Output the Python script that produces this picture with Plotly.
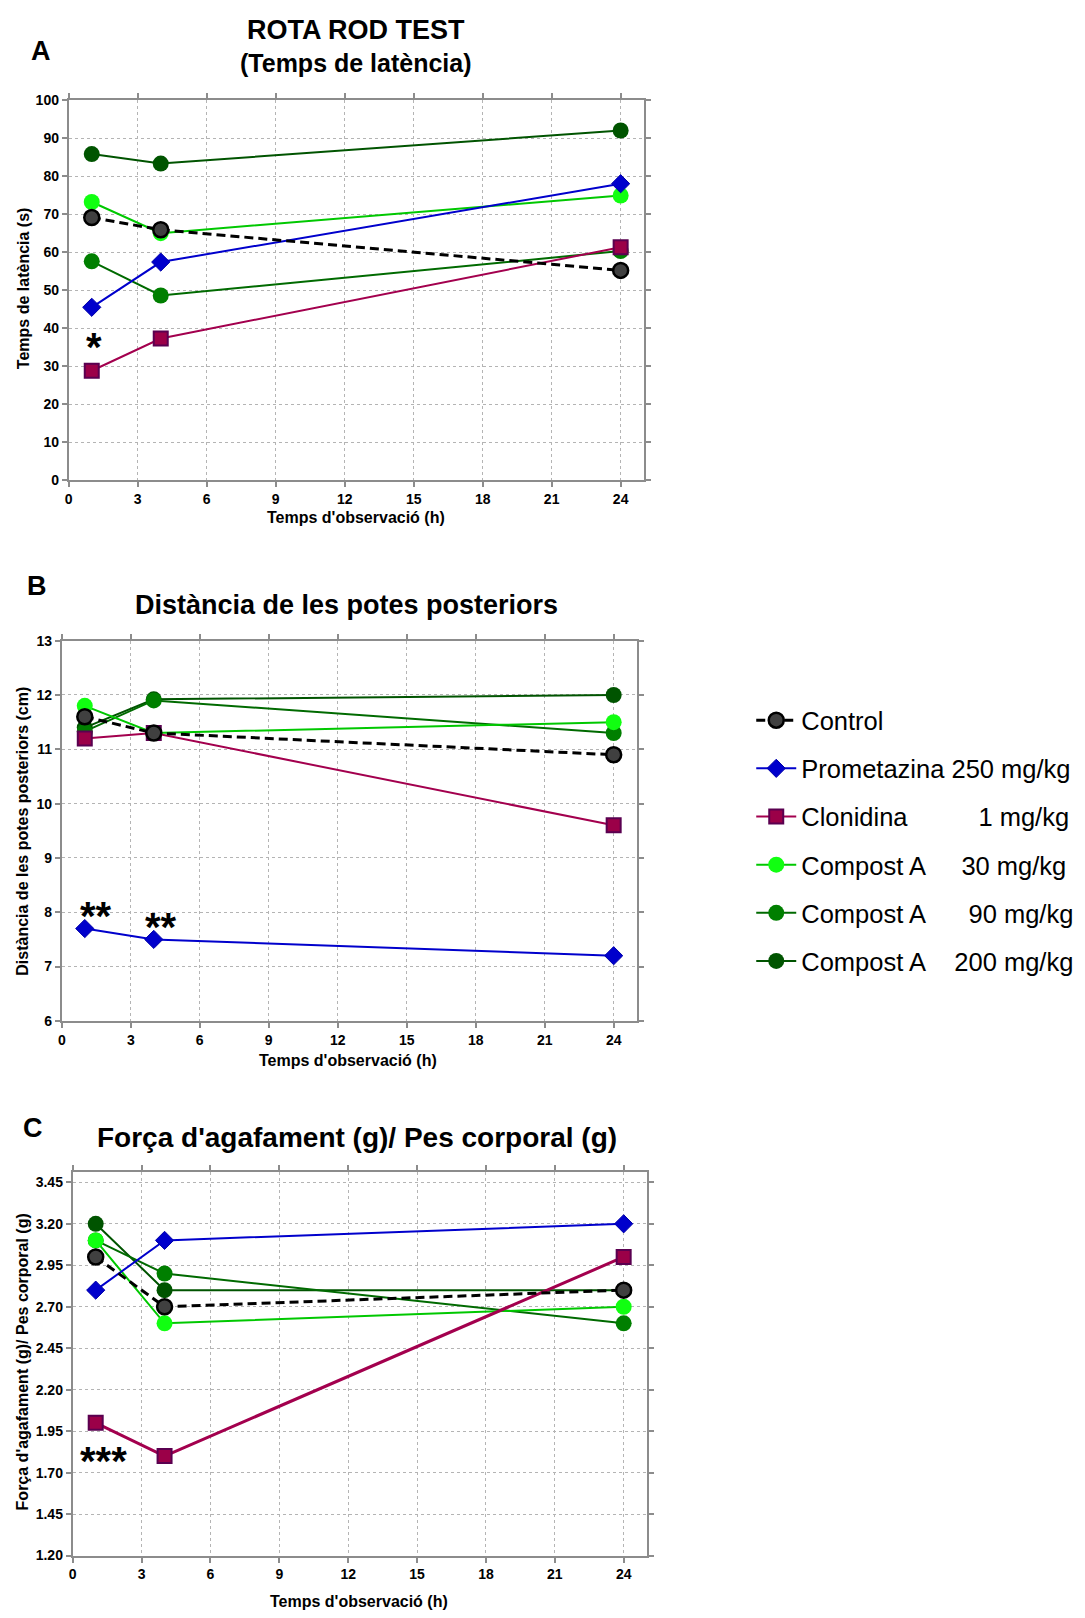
import plotly.graph_objects as go

# ---------------- data ----------------
hours = [1, 4, 24]

series_names = ["Control", "Prometazina", "Clonidina", "Compost A", "Compost A", "Compost A"]
series_doses = ["", "250 mg/kg", "1 mg/kg", "30 mg/kg", "90 mg/kg", "200 mg/kg"]

# Panel A: Temps de latència (s)
lat_control = [69.1, 65.9, 55.2]
lat_prometazina = [45.5, 57.4, 78.0]
lat_clonidina = [28.8, 37.3, 61.3]
lat_compA30 = [73.2, 65.0, 74.9]
lat_compA90 = [57.6, 48.6, 60.3]
lat_compA200 = [85.8, 83.3, 92.0]

# Panel B: Distància de les potes posteriors (cm)
dist_control = [11.6, 11.3, 10.9]
dist_prometazina = [7.7, 7.5, 7.2]
dist_clonidina = [11.2, 11.3, 9.6]
dist_compA30 = [11.8, 11.3, 11.5]
dist_compA90 = [11.33, 11.9, 11.3]
dist_compA200 = [11.4, 11.92, 12.0]

# Panel C: Força d'agafament (g)/ Pes corporal (g)
grip_control = [3.00, 2.70, 2.80]
grip_prometazina = [2.80, 3.10, 3.20]
grip_clonidina = [2.00, 1.80, 3.00]
grip_compA30 = [3.10, 2.60, 2.70]
grip_compA90 = [3.10, 2.90, 2.60]
grip_compA200 = [3.20, 2.80, 2.80]

# significance marks (text, x, y) per panel
sig_a_text = ["*"]
sig_a_x = [1.09]
sig_a_y = [35.0]
sig_b_text = ["**", "**"]
sig_b_x = [1.47, 4.33]
sig_b_y = [7.93, 7.73]
sig_c_text = ["***"]
sig_c_x = [1.35]
sig_c_y = [1.77]

x_ticks = [0, 3, 6, 9, 12, 15, 18, 21, 24]
a_ticks = [0, 10, 20, 30, 40, 50, 60, 70, 80, 90, 100]
b_ticks = [6, 7, 8, 9, 10, 11, 12, 13]
c_ticks = [1.20, 1.45, 1.70, 1.95, 2.20, 2.45, 2.70, 2.95, 3.20, 3.45]

# ---------------- styles ----------------
FONT_B = "Liberation Sans, Arial, Helvetica, sans-serif"
styles = [
    dict(line=dict(color="black", width=3, dash="9px,5px"),
         marker=dict(symbol="circle", size=15, color="#404040", line=dict(color="black", width=2.5))),
    dict(line=dict(color="#0000CC", width=2),
         marker=dict(symbol="diamond", size=14, color="#0000CC", line=dict(color="#0000AA", width=1))),
    dict(line=dict(color="#A3004E", width=2),
         marker=dict(symbol="square", size=14, color="#9B0048", line=dict(color="#5A0050", width=2))),
    dict(line=dict(color="#00C800", width=2),
         marker=dict(symbol="circle", size=16, color="#11FF11", line=dict(color="#11FF11", width=0))),
    dict(line=dict(color="#006A00", width=2),
         marker=dict(symbol="circle", size=16, color="#007F00", line=dict(color="#007F00", width=0))),
    dict(line=dict(color="#005400", width=2),
         marker=dict(symbol="circle", size=16, color="#005400", line=dict(color="#005400", width=0))),
]
legend_pads = [0, 1, 10, 5, 6, 4]
NB = "\u00a0"

panels = [
    ("x", "y", [lat_control, lat_prometazina, lat_clonidina, lat_compA30, lat_compA90, lat_compA200]),
    ("x2", "y2", [dist_control, dist_prometazina, dist_clonidina, dist_compA30, dist_compA90, dist_compA200]),
    ("x3", "y3", [grip_control, grip_prometazina, grip_clonidina, grip_compA30, grip_compA90, grip_compA200]),
]

fig = go.Figure()
draw_order = [5, 4, 3, 1, 2, 0]
for p, (xa, ya, data) in enumerate(panels):
    for i in draw_order:
        st = styles[i]
        line = dict(st["line"])
        if p == 2 and i == 2:
            line["width"] = 3
        name = series_names[i] + (NB * legend_pads[i] + series_doses[i] if series_doses[i] else "")
        fig.add_trace(go.Scatter(
            x=hours, y=data[i], xaxis=xa, yaxis=ya, mode="lines+markers",
            name=name, line=line, marker=st["marker"],
            showlegend=(p == 0), legendrank=i + 1, legendgroup=f"g{i}",
        ))

axis_common = dict(
    showline=True, linecolor="#8C8C8C", linewidth=2, mirror="ticks",
    ticks="outside", ticklen=5, tickcolor="#8C8C8C", tickwidth=1.5,
    showgrid=True, gridcolor="#B4B4B4", gridwidth=1, griddash="dot",
    zeroline=False,
    tickfont=dict(family=FONT_B, size=14, color="black", weight="bold"),
)

W, H = 1085, 1618
def dx(a, b):
    return [a / W, b / W]
def dy(top, bottom):
    return [1 - bottom / H, 1 - top / H]

fig.update_layout(
    width=W, height=H, margin=dict(l=0, r=0, t=0, b=0),
    plot_bgcolor="white", paper_bgcolor="white",
    xaxis=dict(axis_common, domain=dx(65, 642), range=[0, 25], tickvals=x_ticks, anchor="y"),
    yaxis=dict(axis_common, domain=dy(93, 477), range=[0, 100], tickvals=a_ticks, anchor="x"),
    xaxis2=dict(axis_common, domain=dx(58, 635), range=[0, 25], tickvals=x_ticks, anchor="y2"),
    yaxis2=dict(axis_common, domain=dy(639, 1023), range=[6, 13], tickvals=b_ticks, anchor="x2"),
    xaxis3=dict(axis_common, domain=dx(69, 645), range=[0, 25], tickvals=x_ticks, anchor="y3"),
    yaxis3=dict(axis_common, domain=dy(1176, 1563), range=[1.20, 3.51], tickvals=c_ticks,
                tickformat=".2f", anchor="x3"),
    showlegend=True,
    legend=dict(x=750 / W, y=1 - 696 / H, xanchor="left", yanchor="top",
                font=dict(family=FONT_B, size=25.5, color="black"),
                tracegroupgap=12, bgcolor="rgba(0,0,0,0)", itemwidth=40),
)

def ann(text, x, y, size, xref="paper", yref="paper", angle=0, bold=True, xanchor="center", yanchor="middle"):
    fig.add_annotation(text=text, x=x, y=y, xref=xref, yref=yref, showarrow=False,
                       textangle=angle, xanchor=xanchor, yanchor=yanchor,
                       font=dict(family=FONT_B, size=size, color="black",
                                 weight="bold" if bold else "normal"))

# Titles and panel letters
ann("ROTA ROD TEST", 353 / W, 1 - 22 / H, 27)
ann("(Temps de latència)", 353 / W, 1 - 56 / H, 25)
ann("A", 37 / W, 1 - 43 / H, 27)
ann("Distància de les potes posteriors", 344 / W, 1 - 603 / H, 27)
ann("B", 33 / W, 1 - 584 / H, 27)
ann("Força d'agafament (g)/ Pes corporal (g)", 354 / W, 1 - 1141 / H, 28)
ann("C", 29 / W, 1 - 1131 / H, 27)

# Axis titles
ann("Temps d'observació (h)", 353 / W, 1 - 515 / H, 16)
ann("Temps de latència (s)", 19 / W, 1 - 283 / H, 16, angle=-90)
ann("Temps d'observació (h)", 345 / W, 1 - 1063 / H, 16)
ann("Distància de les potes posteriors (cm)", 19 / W, 1 - 831 / H, 16, angle=-90)
ann("Temps d'observació (h)", 356 / W, 1 - 1609 / H, 16)
ann("Força d'agafament (g)/ Pes corporal (g)", 19 / W, 1 - 1367 / H, 16, angle=-90)

# significance marks
for t, x, y in zip(sig_a_text, sig_a_x, sig_a_y):
    ann(t, x, y, 40, xref="x", yref="y")
for t, x, y in zip(sig_b_text, sig_b_x, sig_b_y):
    ann(t, x, y, 40, xref="x2", yref="y2")
for t, x, y in zip(sig_c_text, sig_c_x, sig_c_y):
    ann(t, x, y, 40, xref="x3", yref="y3")

fig.write_html("out.html", config={"displayModeBar": False},
               post_script="document.body.style.margin='0';document.body.style.overflow='hidden';")
